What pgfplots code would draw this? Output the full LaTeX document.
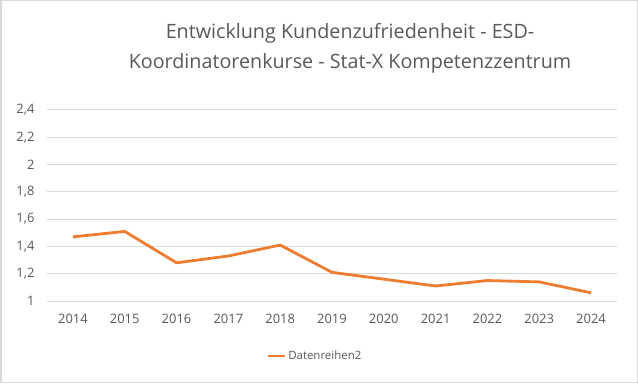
\documentclass[border=0pt]{standalone}
\usepackage{pgfplots}
\pgfplotsset{compat=1.18}
\usepackage{fontspec}
\setmainfont{Open Sans}
\definecolor{txt}{HTML}{595959}
\definecolor{grid}{HTML}{D9D9D9}
\definecolor{org}{HTML}{ED7D31}
\begin{document}
\begin{tikzpicture}[x=1bp,y=1bp]
\draw[draw=grid, line width=1.5bp, fill=white] (0.75,0.75) rectangle (637.25,382.25);
\node[text=txt, font=\fontsize{19.8}{30}\selectfont, align=center] at (350,335) {Entwicklung Kundenzufriedenheit - ESD-\\Koordinatorenkurse - Stat-X Kompetenzzentrum};
\begin{axis}[
  at={(47bp,82bp)}, anchor=south west,
  scale only axis, width=570bp, height=191bp,
  xmin=2013.5, xmax=2024.5, ymin=1, ymax=2.4,
  xtick={2014,...,2024}, ytick={1,1.2,...,2.4},
  axis line style={draw=none},
  ymajorgrids, grid style={draw=grid, line width=1bp},
  major tick length=0pt,
  tick label style={text=txt, font=\fontsize{13}{15}\selectfont},
  /pgf/number format/assume math mode=true,
  /pgf/number format/use comma,
  x tick label style={/pgf/number format/set thousands separator={}, yshift=-10bp},
  y tick label style={xshift=-9bp},
  legend style={at={(0.47,-0.25)}, anchor=north, draw=none, font=\fontsize{11.5}{13}\selectfont, text=txt, legend cell align=left, inner sep=0pt},
  legend image post style={line width=2.8bp},
  clip=false,
]
\addplot[org, line width=2.8bp, line join=round] coordinates {
(2014,1.47) (2015,1.51) (2016,1.28) (2017,1.33) (2018,1.41) (2019,1.21)
(2020,1.16) (2021,1.11) (2022,1.15) (2023,1.14) (2024,1.06)};
\addlegendentry{Datenreihen2}
\end{axis}
\end{tikzpicture}
\end{document}
